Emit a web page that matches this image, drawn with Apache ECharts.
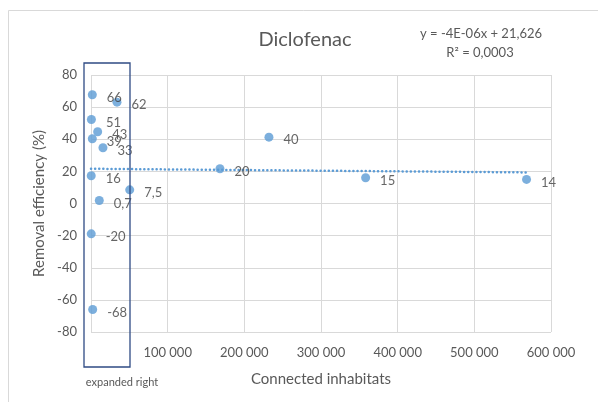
<!DOCTYPE html>
<html><head><meta charset="utf-8">
<script src="https://cdn.jsdelivr.net/npm/echarts@6/dist/echarts.min.js"></script>
<style>html,body{margin:0;padding:0;background:#fff}#c{width:598px;height:402px}</style>
</head><body><div id="c"></div>
<script>
// Data
var inhabitants = [1700, 33900, 500, 8700, 1700, 15600, 300, 50500, 10800, 300, 2200, 168200, 232100, 358200, 568100];
var removal     = [67.7, 63.1, 52.3, 44.7, 40.3, 34.7, 17.3, 8.5, 1.9, -18.9, -66.0, 21.6, 41.3, 16.0, 15.0];
var pointLabels = ['66', '62', '51', '43', '39', '33', '16', '7,5', '0,7', '-20', '-68', '20', '40', '15', '14'];
var trendX = [0, 568100];
var trendY = [21.63, 19.35];
var xTicks = [0, 100000, 200000, 300000, 400000, 500000, 600000];
var yTicks = [-80, -60, -40, -20, 0, 20, 40, 60, 80];

var FONT = 'Lato, "Open Sans", sans-serif';
var TXT = '#595959';
var chart = echarts.init(document.getElementById('c'), null, {renderer: 'canvas'});
var pts = inhabitants.map(function (x, i) { return [x, removal[i]]; });
var trend = trendX.map(function (x, i) { return [x, trendY[i]]; });

chart.setOption({
  animation: false,
  backgroundColor: '#fff',
  textStyle: {fontFamily: FONT},
  grid: {left: 91, right: 47, top: 75, bottom: 70, containLabel: false},
  xAxis: {
    type: 'value', min: xTicks[0], max: xTicks[xTicks.length - 1], interval: 100000,
    name: 'Connected inhabitats', nameLocation: 'middle', nameGap: 40,
    nameTextStyle: {color: TXT, fontSize: 15, fontFamily: FONT},
    axisLine: {show: false}, axisTick: {show: false},
    axisLabel: {color: TXT, fontSize: 13, fontFamily: FONT, margin: 14,
      formatter: function (v) { return v === 0 ? '' : String(v).replace(/\B(?=(\d{3})+(?!\d))/g, ' '); }},
    splitLine: {show: true, lineStyle: {color: '#D9D9D9', width: 1}}
  },
  yAxis: {
    type: 'value', min: yTicks[0], max: yTicks[yTicks.length - 1], interval: 20,
    name: 'Removal efficiency (%)', nameLocation: 'middle', nameGap: 40,
    nameTextStyle: {color: TXT, fontSize: 15, fontFamily: FONT},
    axisLine: {show: false}, axisTick: {show: false},
    axisLabel: {color: TXT, fontSize: 13, fontFamily: FONT, margin: 14},
    splitLine: {show: true, lineStyle: {color: '#D9D9D9', width: 1}}
  },
  series: [
    {
      type: 'line', data: trend, symbol: 'none', silent: true, z: 1,
      lineStyle: {color: '#5B9BD5', width: 2.5, type: [0.1, 4], cap: 'round'}
    },
    {
      type: 'scatter', data: pts, symbol: 'circle', symbolSize: 9, z: 3,
      itemStyle: {color: '#5B9BD5'},
      label: {show: true, position: 'right', distance: 10, offset: [0, 3],
        color: '#404040', fontSize: 13, fontFamily: FONT,
        formatter: function (p) { return pointLabels[p.dataIndex]; }}
    }
  ],
  graphic: [
    {type: 'line', shape: {x1: 8.5, y1: 10.5, x2: 8.5, y2: 402}, style: {stroke: '#D9D9D9', lineWidth: 1}},
    {type: 'line', shape: {x1: 8.5, y1: 10.5, x2: 598, y2: 10.5}, style: {stroke: '#D9D9D9', lineWidth: 1}},
    {type: 'text', x: 305, y: 40, style: {text: 'Diclofenac', fill: TXT, fontSize: 20, fontFamily: FONT, align: 'center', verticalAlign: 'middle'}},
    {type: 'text', x: 481, y: 34, style: {text: 'y = -4E-06x + 21,626', fill: TXT, fontSize: 13, fontFamily: FONT, align: 'center', verticalAlign: 'middle'}},
    {type: 'text', x: 480, y: 53, style: {text: 'R² = 0,0003', fill: TXT, fontSize: 13, fontFamily: FONT, align: 'center', verticalAlign: 'middle'}},
    {type: 'rect', z: 10, shape: {x: 84, y: 63, width: 46, height: 304}, style: {fill: 'none', stroke: '#2F4B84', lineWidth: 1.3}},
    {type: 'text', x: 122, y: 382, style: {text: 'expanded right', fill: TXT, fontSize: 11, fontFamily: FONT, align: 'center', verticalAlign: 'middle'}}
  ]
});
</script></body></html>
